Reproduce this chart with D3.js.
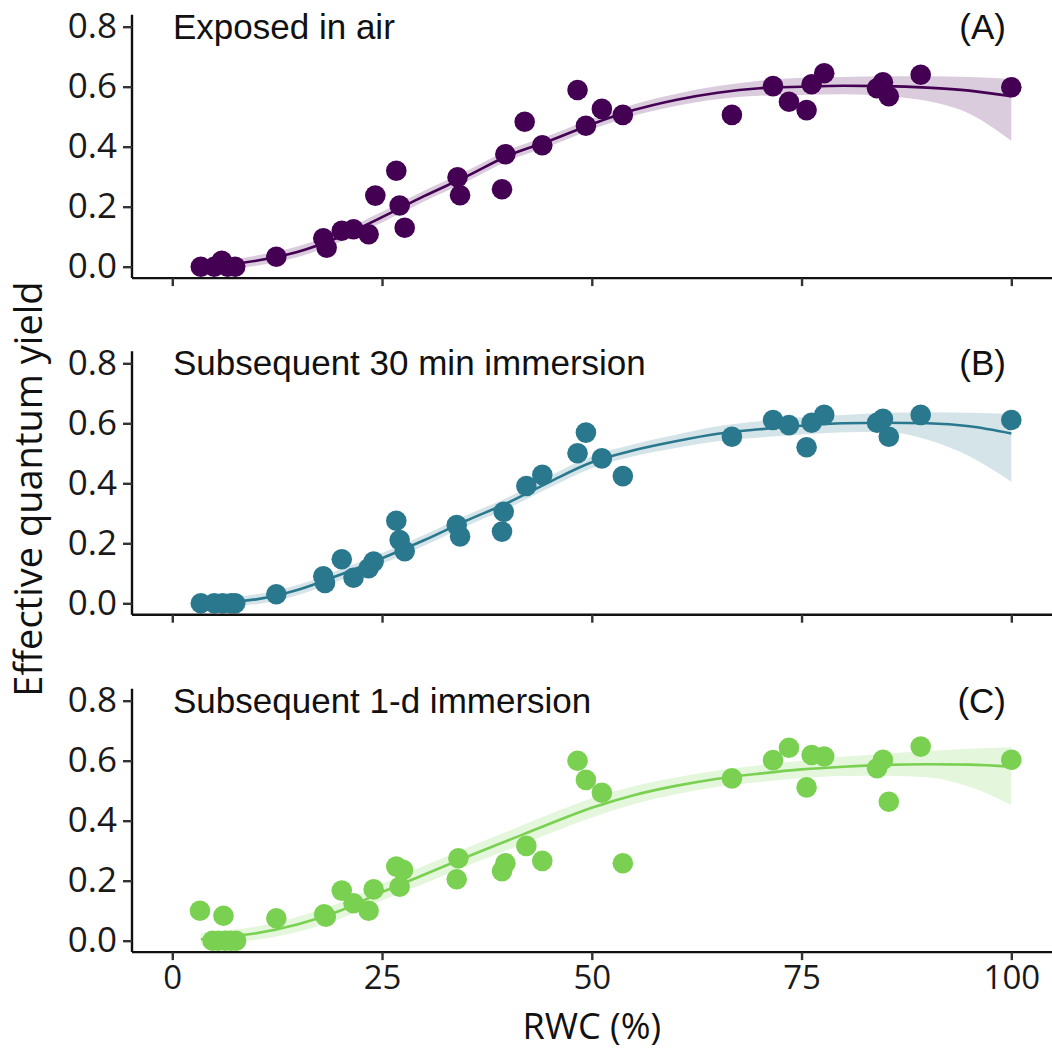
<!DOCTYPE html>
<html><head><meta charset="utf-8">
<script src="https://cdn.jsdelivr.net/npm/d3@7"></script>
<style>body{margin:0;background:#fff}svg{display:block}</style>
</head><body>
<script>
// ---------- DATA ----------
const panelTitles = ["Exposed in air", "Subsequent 30 min immersion", "Subsequent 1-d immersion"];
const panelTags = ["(A)", "(B)", "(C)"];
const panelColors = ["#440154", "#2A788E", "#7AD151"];
const xTicks = [0, 25, 50, 75, 100];
const yTicks = [0.0, 0.2, 0.4, 0.6, 0.8];

const airX = [3.4,5.0,5.9,6.6,7.5,12.4,18.0,18.4,20.2,21.6,23.4,24.2,26.7,27.1,27.7,34.0,34.3,39.3,39.7,42.0,44.1,48.3,49.3,51.2,53.7,66.7,71.6,73.5,75.6,76.2,77.7,84.0,84.7,85.4,89.2,100];
const airY = [0.0,0.0,0.02,0.0,0.0,0.033,0.095,0.063,0.12,0.125,0.108,0.237,0.32,0.204,0.13,0.298,0.238,0.258,0.375,0.483,0.405,0.589,0.47,0.526,0.506,0.506,0.602,0.55,0.522,0.608,0.645,0.595,0.615,0.568,0.64,0.598];

const min30X = [3.4,5.0,6.0,7.0,7.5,12.4,18.0,18.2,20.2,21.6,23.4,24.0,26.7,27.1,27.7,33.9,34.3,39.3,39.5,42.2,44.1,48.3,49.3,51.2,53.7,66.7,71.6,73.5,75.6,76.2,77.7,84.0,84.7,85.4,89.2,100];
const min30Y = [0.0,0.0,0.0,0.0,0.0,0.03,0.09,0.068,0.147,0.085,0.117,0.139,0.275,0.211,0.174,0.261,0.223,0.239,0.305,0.391,0.428,0.50,0.569,0.483,0.424,0.555,0.611,0.594,0.52,0.602,0.628,0.602,0.615,0.555,0.628,0.611];

const day1X = [3.3,6.1,4.8,5.5,6.3,7.0,7.6,12.4,18.1,18.3,20.2,21.6,23.4,24.0,26.7,27.5,27.1,34.1,33.9,39.3,39.7,42.2,44.1,48.3,49.3,51.2,53.7,66.7,71.6,73.5,75.6,76.2,77.7,84.0,84.7,85.4,89.2,100];
const day1Y = [0.1,0.083,0.0,0.0,0.0,0.0,0.0,0.075,0.088,0.08,0.167,0.125,0.10,0.171,0.247,0.236,0.18,0.275,0.205,0.232,0.258,0.316,0.266,0.60,0.536,0.493,0.258,0.541,0.602,0.643,0.511,0.619,0.614,0.575,0.603,0.463,0.647,0.603];

// fitted curves and confidence ribbons
const fitX = [3.4,6,10,15,20,25,30,35,40,45,50,55,60,65,70,75,80,85,90,95,100];
const airFit = [0.0,0.005,0.02,0.05,0.10,0.165,0.235,0.30,0.37,0.42,0.475,0.522,0.556,0.58,0.595,0.60,0.603,0.602,0.597,0.587,0.568];
const airLo  = [-0.012,-0.01,0.003,0.032,0.082,0.147,0.217,0.282,0.352,0.402,0.457,0.503,0.536,0.558,0.57,0.572,0.575,0.568,0.552,0.51,0.42];
const airHi  = [0.012,0.02,0.037,0.068,0.118,0.183,0.253,0.318,0.388,0.438,0.493,0.541,0.576,0.602,0.62,0.63,0.632,0.635,0.635,0.632,0.626];
const min30Fit = [0.0,0.004,0.013,0.045,0.095,0.15,0.21,0.275,0.335,0.405,0.47,0.51,0.54,0.565,0.58,0.592,0.60,0.602,0.60,0.59,0.566];
const min30Lo  = [-0.012,-0.01,-0.003,0.028,0.077,0.132,0.192,0.257,0.317,0.386,0.45,0.49,0.518,0.54,0.553,0.563,0.57,0.572,0.545,0.49,0.405];
const min30Hi  = [0.012,0.018,0.03,0.062,0.113,0.168,0.228,0.293,0.353,0.424,0.49,0.53,0.562,0.59,0.607,0.62,0.628,0.635,0.637,0.635,0.631];
const day1Fit = [0.005,0.012,0.025,0.055,0.1,0.162,0.22,0.278,0.334,0.39,0.443,0.485,0.516,0.54,0.557,0.571,0.58,0.586,0.588,0.587,0.58];
const day1Lo  = [-0.015,-0.01,0.003,0.03,0.073,0.134,0.19,0.248,0.303,0.358,0.411,0.455,0.488,0.513,0.529,0.542,0.549,0.55,0.545,0.513,0.452];
const day1Hi  = [0.025,0.034,0.047,0.08,0.127,0.19,0.25,0.308,0.365,0.422,0.475,0.515,0.544,0.567,0.585,0.6,0.613,0.623,0.632,0.64,0.645];

const panels = [
  {px: airX, py: airY, fit: airFit, lo: airLo, hi: airHi},
  {px: min30X, py: min30Y, fit: min30Fit, lo: min30Lo, hi: min30Hi},
  {px: day1X, py: day1Y, fit: day1Fit, lo: day1Lo, hi: day1Hi}
];

// ---------- LAYOUT ----------
const W = 1052, H = 1049;
const left = 132, right = 1052;
const panelTop = [14.7, 351.3, 688.7];
const panelH = 263.4;
const tickFont = "'Open Sans', 'Noto Sans', sans-serif";
const titleFont = "'Liberation Sans', Arial, sans-serif";

const svg = d3.select("body").append("svg").attr("width", W).attr("height", H);

const x = d3.scaleLinear().domain([-4.8, 104.85]).range([left, right]);

panels.forEach((p, i) => {
  const g = svg.append("g").attr("transform", `translate(0,${panelTop[i]})`);
  const y = d3.scaleLinear().domain([-0.038, 0.84]).range([panelH, 0]);
  const col = panelColors[i];

  // ribbon
  const band = fitX.map((v, k) => ({x: v, lo: p.lo[k], hi: p.hi[k], f: p.fit[k]}));
  g.append("path").datum(band)
    .attr("fill", col).attr("fill-opacity", 0.2)
    .attr("d", d3.area().x(d => x(d.x)).y0(d => y(d.lo)).y1(d => y(d.hi)).curve(d3.curveMonotoneX));
  g.append("path").datum(band)
    .attr("fill", "none").attr("stroke", col).attr("stroke-width", 2.6)
    .attr("d", d3.line().x(d => x(d.x)).y(d => y(d.f)).curve(d3.curveMonotoneX));

  // points
  g.selectAll("circle.pt").data(p.px.map((v, k) => [v, p.py[k]])).join("circle")
    .attr("class", "pt").attr("cx", d => x(d[0])).attr("cy", d => y(d[1]))
    .attr("r", 10.3).attr("fill", col);

  // axes
  const yAxis = d3.axisLeft(y).tickValues(yTicks).tickFormat(d3.format(".1f")).tickSize(9).tickPadding(6);
  const ya = g.append("g").attr("transform", `translate(${left},0)`).call(yAxis);
  const xAxis = d3.axisBottom(x).tickValues(xTicks).tickSize(8).tickPadding(5)
    .tickFormat(i === 2 ? d3.format("d") : () => "");
  const xa = g.append("g").attr("transform", `translate(0,${panelH})`).call(xAxis);
  [ya, xa].forEach(a => {
    a.select(".domain").attr("stroke", "#111").attr("stroke-width", 2.4);
    a.selectAll(".tick line").attr("stroke", "#333").attr("stroke-width", 2.4);
    a.selectAll(".tick text").attr("fill", "#1a1a1a").style("font-family", tickFont);
  });
  ya.selectAll(".tick text").style("font-size", "35px");
  xa.selectAll(".tick text").style("font-size", "33px");
  ya.select(".domain").attr("d", `M0,0V${panelH}`);
  xa.select(".domain").attr("d", `M${left},0H${right}`);

  // titles
  g.append("text").attr("x", 173).attr("y", 24).text(panelTitles[i])
    .style("font-family", titleFont).style("font-size", "35px").attr("fill", "#111");
  g.append("text").attr("x", 1006).attr("y", 24).attr("text-anchor", "end").text(panelTags[i])
    .style("font-family", titleFont).style("font-size", "35px").attr("fill", "#111");
});

// axis titles
svg.append("text").attr("x", x(50)).attr("y", 1038.5).attr("text-anchor", "middle")
  .text("RWC (%)").style("font-family", tickFont).style("font-size", "36px").attr("fill", "#111");
svg.append("text").attr("transform", "translate(42,489) rotate(-90)").attr("text-anchor", "middle")
  .text("Effective quantum yield").style("font-family", tickFont).style("font-size", "38px").attr("fill", "#111");
</script>
</body></html>
